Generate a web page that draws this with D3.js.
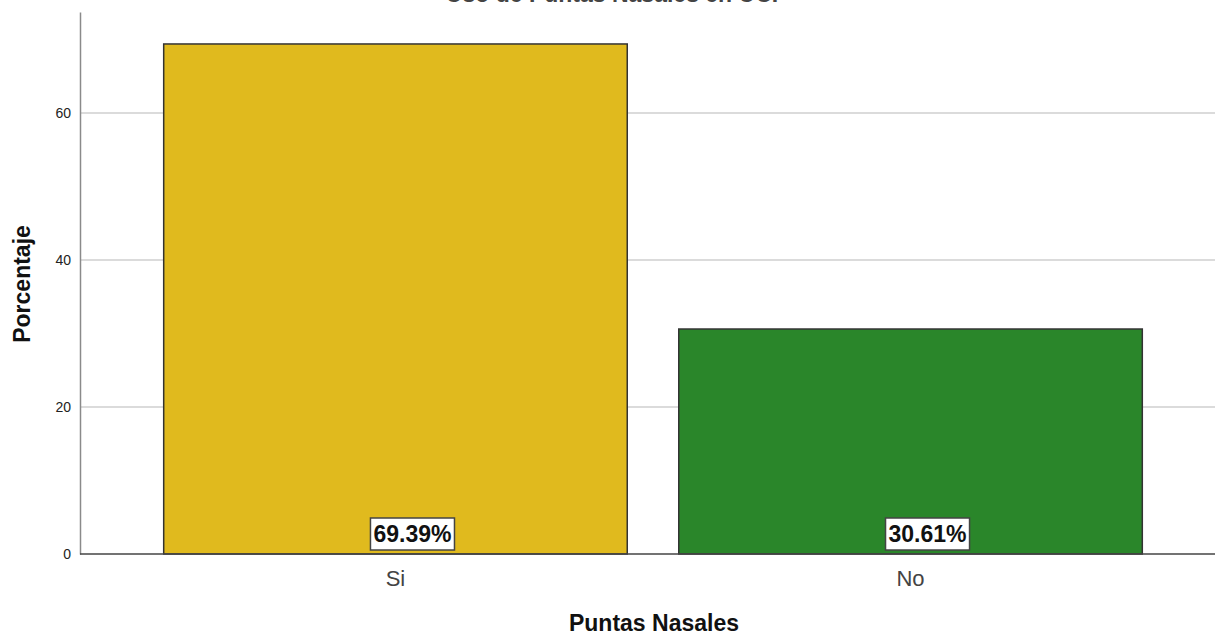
<!DOCTYPE html>
<html><head><meta charset="utf-8">
<script src="https://cdn.jsdelivr.net/npm/d3@7"></script>
<style>body{margin:0;background:#fff}svg{display:block;font-family:"Liberation Sans",Arial,sans-serif}</style>
</head><body>
<svg id="c" width="1215" height="635"></svg>
<script>
const categories = ["Si", "No"];
const values = [69.39, 30.61];
const valueLabels = ["69.39%", "30.61%"];
const colors = ["#E0BA1E", "#2A862A"];
const yTicks = [0, 20, 40, 60];
const title = "Uso de Puntas Nasales en UCI";
const xTitle = "Puntas Nasales";
const yTitle = "Porcentaje";

(function () {
const svg = d3.select("#c");
const W = 1215, H = 635;
const leftX = 80, base = 554, topY = 12;
const y = d3.scaleLinear().domain([0, 73.74]).range([base, topY]);
const x = d3.scaleBand().domain(categories).range([leftX, 1226]).paddingInner(0.1).paddingOuter(0.1625);

// title (clipped at top, as in the reference)
svg.append("text").attr("x", 612).attr("y", 2).attr("text-anchor", "middle")
  .attr("font-size", 23).attr("font-weight", "bold").attr("fill", "#444").text(title);

// gridlines
svg.append("g").selectAll("line").data(yTicks.filter(d => d > 0)).join("line")
  .attr("x1", leftX).attr("x2", W).attr("y1", d => y(d)).attr("y2", d => y(d))
  .attr("stroke", "#cfcfcf").attr("stroke-width", 1.5);

// y axis
const ya = svg.append("g").attr("transform", `translate(${leftX},0)`)
  .call(d3.axisLeft(y).tickValues(yTicks).tickSize(0).tickPadding(9).tickFormat(d3.format("d")));
ya.select(".domain").attr("stroke", "#8a8a8a").attr("stroke-width", 1.5);
ya.selectAll("text").attr("font-size", 14).attr("fill", "#222").attr("font-family", "Liberation Sans, Arial, sans-serif");

// bars
svg.append("g").selectAll("rect").data(values).join("rect")
  .attr("x", (d, i) => x(categories[i])).attr("width", x.bandwidth())
  .attr("y", d => y(d)).attr("height", d => base - y(d))
  .attr("fill", (d, i) => colors[i]).attr("stroke", "#333").attr("stroke-width", 1.5);

// x axis
const xa = svg.append("g").attr("transform", `translate(0,${base})`)
  .call(d3.axisBottom(x).tickSize(0).tickPadding(16));
xa.select(".domain").remove();
svg.append("line").attr("x1", leftX).attr("x2", W).attr("y1", base).attr("y2", base)
  .attr("stroke", "#444").attr("stroke-width", 1.5);
xa.selectAll("text").attr("font-size", 22).attr("fill", "#444").attr("font-family", "Liberation Sans, Arial, sans-serif");

// value labels
const lab = svg.append("g").selectAll("g").data(values).join("g")
  .attr("transform", (d, i) => `translate(${x(categories[i]) + x.bandwidth() / 2 + 17},${base - 20})`);
lab.append("text").attr("text-anchor", "middle").attr("dy", "0.36em")
  .attr("font-size", 23).attr("font-weight", "bold").attr("fill", "#111").text((d, i) => valueLabels[i]);
lab.each(function () {
  const g = d3.select(this);
  const bb = g.select("text").node().getBBox();
  g.insert("rect", "text").attr("x", bb.x - 3).attr("y", -16).attr("width", bb.width + 6).attr("height", 32)
    .attr("fill", "#fff").attr("stroke", "#444").attr("stroke-width", 1.5);
});

// axis titles
svg.append("text").attr("x", 654).attr("y", 631).attr("text-anchor", "middle")
  .attr("font-size", 23).attr("font-weight", "bold").attr("fill", "#111").text(xTitle);
svg.append("text").attr("transform", "translate(30,284) rotate(-90)").attr("text-anchor", "middle")
  .attr("font-size", 23).attr("font-weight", "bold").attr("fill", "#111").text(yTitle);
})();
</script>
</body></html>
